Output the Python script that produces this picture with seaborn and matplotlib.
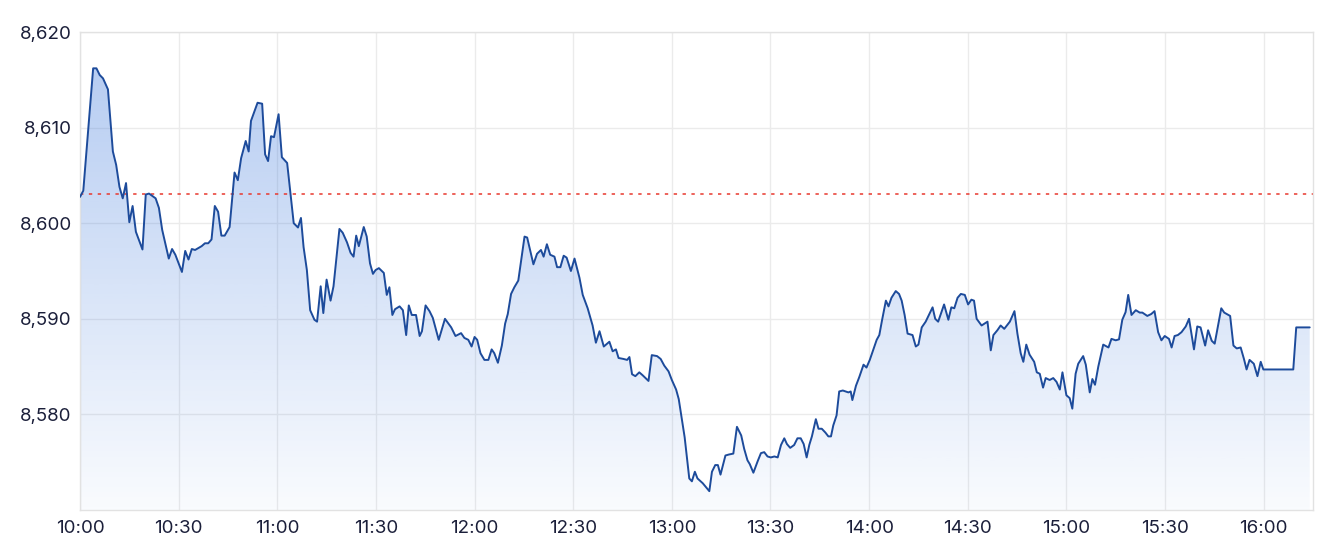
import numpy as np
import pandas as pd
import matplotlib
matplotlib.use("Agg")
import matplotlib.pyplot as plt
import seaborn as sns
from matplotlib.ticker import FuncFormatter, FixedLocator

# ---- data (minutes after 10:00, index level) ----
minutes = [0, 1, 4, 5, 6, 7, 8.5, 10, 11, 12, 13, 14, 15, 16, 17, 19, 20, 21, 23, 24,
           25, 27, 28, 29, 31, 32, 33, 34, 35, 37, 38, 39, 40, 41, 42, 43, 44, 45.5, 47, 48,
           49, 50.4, 51.3, 52, 54, 55.4, 56.3, 57.2, 58.1, 59, 60.4, 61.4, 63, 65, 66.3, 67.2, 68, 69, 70, 71.3,
           72.1, 73.2, 74, 75, 76.2, 77.1, 78.9, 79.9, 81.2, 82.3, 83.2, 84, 84.8, 86.3, 87.2, 88.2, 89.1, 89.9, 90.9, 92.4,
           93.3, 94.1, 95, 95.8, 97.2, 98.2, 99.2, 100, 100.9, 102.2, 103.3, 104, 105.1, 106.3, 107.3, 109.1, 111, 112.9, 114.2, 115.9,
           116.9, 118.1, 119.1, 120, 120.8, 121.8, 123, 124.2, 125.2, 126, 127.1, 128.3, 129.3, 130.1, 131.1, 132.1, 133.3, 135.2, 136, 137.9,
           139, 140.2, 141, 142, 143, 144.3, 145.1, 146.1, 147.1, 148, 149.3, 150.4, 151.9, 152.9, 154.4, 155.9, 156.9, 158, 159.3, 161,
           162, 163, 163.8, 165.3, 166.4, 167.1, 167.9, 168.9, 170.1, 171.1, 172.9, 173.9, 175.5, 176.6, 177.7, 179, 180, 181.3, 182.1, 183.1,
           183.9, 184.6, 185.3, 186.1, 187, 187.8, 189.4, 191.4, 192.2, 193.2, 194, 194.8, 196.3, 197.3, 198.7, 199.8, 201.1, 202, 203, 203.7,
           204.8, 206.1, 207.1, 208.1, 209.1, 210.1, 211.2, 212.2, 213.2, 214.2, 215, 216, 217.2, 218.2, 219.2, 220.1, 221, 221.8, 222.6, 223.8,
           224.6, 225.6, 226.7, 227.6, 228.4, 229.1, 230.1, 230.9, 232, 233.7, 234.4, 234.9, 236, 237, 238.3, 239.2, 240.2, 241.5, 242.3, 243.1,
           243.9, 245.1, 245.9, 246.8, 248.1, 249.1, 249.9, 250.8, 251.7, 253.2, 254.2, 255, 256, 257.2, 259.3, 260.1, 261, 262.8, 264.1, 265,
           265.9, 266.9, 267.9, 269.1, 270.1, 271.1, 271.9, 272.7, 274.2, 276, 277, 277.8, 279, 280, 281.1, 282.8, 284.2, 285.1, 286.1, 286.9,
           287.8, 288.8, 290.2, 291, 291.9, 292.9, 293.7, 294.9, 296, 297, 298, 298.8, 300, 301, 301.8, 302.8, 303.6, 305.1, 305.9, 307.1,
           307.9, 308.7, 309.7, 311.2, 312.8, 313.7, 315, 316, 317, 318, 318.8, 319.8, 321.1, 322.3, 323.1, 324.6, 325.8, 326.8, 327.9, 328.9,
           329.9, 331.2, 332, 332.9, 333.9, 335, 336.3, 337.3, 338.8, 339.8, 340.8, 342.2, 343.1, 344.2, 345.1, 347.1, 348, 349.8, 350.8, 351.8,
           353, 354, 354.8, 355.7, 357, 358.1, 359.1, 359.9, 369, 369.9, 374]

values = [8602.75, 8603.4, 8616.2, 8616.2, 8615.5, 8615.15, 8614.0, 8607.5, 8606.1, 8603.8, 8602.6, 8604.2, 8600.1, 8601.8, 8599.1, 8597.25, 8603.0, 8603.1, 8602.6, 8601.6,
          8599.3, 8596.3, 8597.3, 8596.7, 8594.9, 8597.1, 8596.2, 8597.3, 8597.2, 8597.6, 8597.9, 8597.9, 8598.3, 8601.8, 8601.2, 8598.7, 8598.7, 8599.6, 8605.3, 8604.5,
          8606.8, 8608.6, 8607.5, 8610.7, 8612.6, 8612.5, 8607.2, 8606.5, 8609.1, 8609.0, 8611.4, 8606.9, 8606.3, 8600.0, 8599.55, 8600.55, 8597.5, 8595.1, 8590.9, 8589.9,
          8589.7, 8593.4, 8590.6, 8594.1, 8591.9, 8593.4, 8599.4, 8599.0, 8598.0, 8596.9, 8596.5, 8598.7, 8597.6, 8599.6, 8598.6, 8595.8, 8594.7, 8595.1, 8595.3, 8594.8,
          8592.5, 8593.3, 8590.4, 8591.0, 8591.3, 8590.9, 8588.3, 8591.4, 8590.4, 8590.4, 8588.2, 8588.7, 8591.4, 8590.8, 8590.1, 8587.8, 8590.0, 8589.1, 8588.2, 8588.5,
          8588.0, 8587.8, 8587.1, 8588.1, 8587.8, 8586.4, 8585.7, 8585.7, 8586.8, 8586.4, 8585.4, 8587.2, 8589.5, 8590.5, 8592.6, 8593.3, 8594.0, 8598.6, 8598.5, 8595.7,
          8596.8, 8597.2, 8596.5, 8597.8, 8596.7, 8596.5, 8595.4, 8595.4, 8596.6, 8596.4, 8595.0, 8596.3, 8594.3, 8592.5, 8591.1, 8589.3, 8587.5, 8588.7, 8587.1, 8587.6,
          8586.6, 8586.8, 8585.9, 8585.8, 8585.7, 8586.0, 8584.2, 8584.0, 8584.4, 8584.1, 8583.5, 8586.2, 8586.1, 8585.8, 8585.1, 8584.5, 8583.6, 8582.6, 8581.6, 8579.4,
          8577.6, 8575.4, 8573.3, 8573.0, 8574.0, 8573.3, 8572.8, 8571.97, 8574.0, 8574.7, 8574.7, 8573.7, 8575.7, 8575.8, 8575.9, 8578.7, 8577.8, 8576.4, 8575.2, 8574.8,
          8573.9, 8575.1, 8575.95, 8576.05, 8575.6, 8575.5, 8575.6, 8575.5, 8576.8, 8577.5, 8576.9, 8576.5, 8576.8, 8577.5, 8577.5, 8576.9, 8575.5, 8576.8, 8577.7, 8579.5,
          8578.5, 8578.5, 8578.1, 8577.7, 8577.7, 8578.85, 8579.9, 8582.4, 8582.5, 8582.3, 8582.4, 8581.5, 8583.0, 8583.9, 8585.2, 8584.9, 8585.7, 8587.0, 8587.8, 8588.3,
          8589.8, 8591.9, 8591.3, 8592.2, 8592.9, 8592.6, 8591.9, 8590.4, 8588.45, 8588.3, 8587.1, 8587.3, 8589.1, 8589.7, 8591.2, 8590.0, 8589.7, 8591.5, 8589.9, 8591.2,
          8591.1, 8592.2, 8592.6, 8592.5, 8591.5, 8592.0, 8591.9, 8590.0, 8589.3, 8589.7, 8586.7, 8588.3, 8588.8, 8589.3, 8588.95, 8589.7, 8590.8, 8588.45, 8586.4, 8585.5,
          8587.3, 8586.25, 8585.5, 8584.4, 8584.25, 8582.8, 8583.8, 8583.6, 8583.8, 8583.4, 8582.6, 8584.4, 8582.0, 8581.7, 8580.6, 8584.25, 8585.3, 8586.1, 8585.2, 8582.3,
          8583.7, 8583.1, 8585.0, 8587.3, 8587.0, 8587.9, 8587.75, 8587.85, 8589.9, 8590.7, 8592.5, 8590.4, 8590.9, 8590.65, 8590.65, 8590.3, 8590.5, 8590.8, 8588.6, 8587.75,
          8588.2, 8587.9, 8587.0, 8588.2, 8588.3, 8588.6, 8589.2, 8590.0, 8586.8, 8589.2, 8589.1, 8587.2, 8588.8, 8587.7, 8587.4, 8591.1, 8590.65, 8590.3, 8587.2, 8586.9,
          8587.0, 8585.8, 8584.7, 8585.7, 8585.3, 8584.0, 8585.5, 8584.7, 8584.7, 8589.1, 8589.1]

previous_close = 8603.1
x_tick_minutes = [0, 30, 60, 90, 120, 150, 180, 210, 240, 270, 300, 330, 360]
x_tick_labels = ["10:00", "10:30", "11:00", "11:30", "12:00", "12:30", "13:00",
                 "13:30", "14:00", "14:30", "15:00", "15:30", "16:00"]
y_ticks = [8580, 8590, 8600, 8610, 8620]

df = pd.DataFrame({"minute": minutes, "value": values})

# ---- style ----
sns.set_style("white")
plt.rcParams["font.family"] = ["Inter", "DejaVu Sans"]

fig = plt.figure(figsize=(13.4, 5.54), dpi=100)
ax = fig.add_axes([80 / 1340, 1 - 510 / 554, (1313 - 80) / 1340, (510 - 32) / 554])

x0, x1 = 0, 375
y0, y1 = 8570, 8620
ax.set_xlim(x0, x1)
ax.set_ylim(y0, y1)

# gradient area fill
line_color = "#1d4b9b"
poly = ax.fill_between(df["minute"], df["value"], y0, color="none", lw=0)
top_v = max(values)
grad = np.linspace(0, 1, 256).reshape(-1, 1)  # 0 at bottom (y0), 1 at top
alpha_bottom, alpha_top = 0.03, 0.37
alpha = alpha_bottom + (alpha_top - alpha_bottom) * grad
rgba = np.zeros((256, 1, 4))
rgba[..., 0] = 60 / 255
rgba[..., 1] = 120 / 255
rgba[..., 2] = 220 / 255
rgba[..., 3] = alpha[:, 0:1]
im = ax.imshow(rgba, extent=[x0, x1, y0, top_v], origin="lower", aspect="auto", zorder=1)
paths = poly.get_paths()
if paths:
    im.set_clip_path(paths[0], transform=ax.transData)

sns.lineplot(data=df, x="minute", y="value", ax=ax, color=line_color, linewidth=1.4,
             zorder=3, estimator=None, sort=False)

ax.axhline(previous_close, color="#e8382e", linewidth=1.1, linestyle=(0, (2.2, 3.6)), zorder=2)

# axes cosmetics
ax.xaxis.set_major_locator(FixedLocator(x_tick_minutes))
ax.set_xticklabels(x_tick_labels)
ax.yaxis.set_major_locator(FixedLocator(y_ticks))
ax.yaxis.set_major_formatter(FuncFormatter(lambda v, p: f"{v:,.0f}"))
ax.grid(True, color="#ebebeb", linewidth=1.0, zorder=0)
ax.set_axisbelow(True)
for s in ax.spines.values():
    s.set_color("#e2e2e2")
    s.set_linewidth(1.0)
ax.tick_params(axis="both", length=0, labelsize=13.5, colors="#1b1f3a")
ax.tick_params(axis="x", pad=7)
ax.tick_params(axis="y", pad=6)
ax.set_xlabel("")
ax.set_ylabel("")

fig.savefig("out.png", dpi=100, facecolor="white")
